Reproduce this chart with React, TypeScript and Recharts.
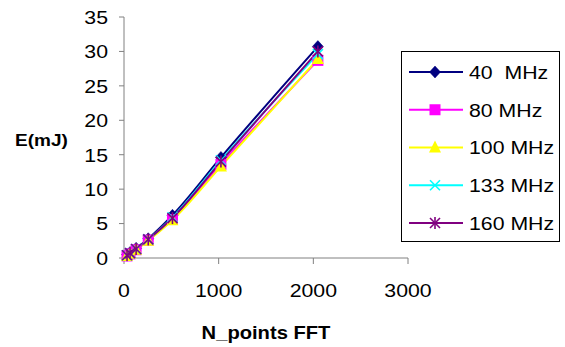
import React from 'react';
import { LineChart, Line, XAxis, YAxis } from 'recharts';

const nPoints = [32, 64, 128, 256, 512, 1024, 2048];
const e40 = [0.5, 0.8, 1.4, 2.8, 6.2, 14.6, 30.7];
const e80 = [0.3, 0.6, 1.2, 2.6, 5.6, 13.6, 28.7];
const e100 = [0.3, 0.6, 1.2, 2.5, 5.5, 13.3, 28.9];
const e133 = [0.4, 0.7, 1.3, 2.7, 5.9, 14.2, 29.6];
const e160 = [0.4, 0.7, 1.3, 2.7, 5.8, 14.0, 30.0];
const xTicks = [0, 1000, 2000, 3000];
const yTicks = [0, 5, 10, 15, 20, 25, 30, 35];

const seriesNames = ['40  MHz', '80 MHz', '100 MHz', '133 MHz', '160 MHz'];
const seriesKeys = ['f40', 'f80', 'f100', 'f133', 'f160'];
const seriesValues = [e40, e80, e100, e133, e160];
const seriesColors = ['#000080', '#FF00FF', '#FFFF00', '#00FFFF', '#800080'];
const seriesShapes = ['diamond', 'square', 'triangle', 'x', 'star'];

const data = nPoints.map((n, i) => {
  const row: Record<string, number> = { n };
  seriesKeys.forEach((k, s) => {
    row[k] = seriesValues[s][i];
  });
  return row;
});

const FONT = '"Liberation Sans", Arial, sans-serif';
const STRETCH = 1.12;

function Marker({ shape, color, cx, cy }: { shape: string; color: string; cx: number; cy: number }) {
  if (shape === 'diamond') {
    return <polygon points={`${cx},${cy - 6} ${cx + 5.5},${cy} ${cx},${cy + 6} ${cx - 5.5},${cy}`} fill={color} stroke={color} strokeWidth={0.5} />;
  }
  if (shape === 'square') {
    return <rect x={cx - 5.5} y={cy - 5.5} width={11} height={11} fill={color} />;
  }
  if (shape === 'triangle') {
    return <polygon points={`${cx},${cy - 7} ${cx + 6},${cy + 5} ${cx - 6},${cy + 5}`} fill={color} />;
  }
  if (shape === 'x') {
    return (
      <g stroke={color} strokeWidth={1.6}>
        <line x1={cx - 5} y1={cy - 5} x2={cx + 5} y2={cy + 5} />
        <line x1={cx - 5} y1={cy + 5} x2={cx + 5} y2={cy - 5} />
      </g>
    );
  }
  return (
    <g stroke={color} strokeWidth={1.6}>
      <line x1={cx - 5} y1={cy - 5} x2={cx + 5} y2={cy + 5} />
      <line x1={cx - 5} y1={cy + 5} x2={cx + 5} y2={cy - 5} />
      <line x1={cx} y1={cy - 6} x2={cx} y2={cy + 6} />
    </g>
  );
}

function StretchText({ x, y, anchor, dy, size, bold, children }: any) {
  return (
    <g transform={`translate(${x},${y}) scale(${STRETCH},1)`}>
      <text
        x={0}
        y={0}
        dy={dy}
        textAnchor={anchor}
        fontSize={size}
        fontWeight={bold ? 'bold' : 'normal'}
        fontFamily={FONT}
        fill="#000"
        style={{ whiteSpace: 'pre' }}
      >
        {children}
      </text>
    </g>
  );
}

function XTick(props: any) {
  const { x, y, payload } = props;
  return (
    <StretchText x={x} y={y} anchor="middle" dy="0.71em" size={19}>
      {String(payload.value)}
    </StretchText>
  );
}

function YTick(props: any) {
  const { x, y, payload } = props;
  return (
    <StretchText x={x} y={y} anchor="end" dy="0.36em" size={19}>
      {String(payload.value)}
    </StretchText>
  );
}

function XLabel(props: any) {
  const vb = props.viewBox || { x: 124, y: 258, width: 284, height: 30 };
  return (
    <StretchText x={vb.x + vb.width / 2} y={vb.y + vb.height + 45} anchor="middle" dy="0.36em" size={18} bold>
      N_points FFT
    </StretchText>
  );
}

function YLabel(props: any) {
  const vb = props.viewBox || { x: 10, y: 17, width: 114, height: 241 };
  return (
    <StretchText x={vb.x + 5} y={vb.y + vb.height / 2 + 2} anchor="start" dy="0.36em" size={17} bold>
      E(mJ)
    </StretchText>
  );
}

function LegendBox() {
  return (
    <div
      style={{
        position: 'absolute',
        left: 401,
        top: 51,
        width: 159,
        height: 191,
        border: '1px solid #000',
        background: '#fff',
        boxSizing: 'border-box',
      }}
    >
      <svg width={157} height={189} style={{ position: 'absolute', left: 0, top: 0 }}>
        {seriesNames.map((name, i) => {
          const y = 20 + i * 37.75;
          return (
            <g key={name}>
              <line x1={7} y1={y} x2={61} y2={y} stroke={seriesColors[i]} strokeWidth={2} />
              <Marker shape={seriesShapes[i]} color={seriesColors[i]} cx={33} cy={y} />
              <StretchText x={67} y={y} anchor="start" dy="0.36em" size={19}>
                {name}
              </StretchText>
            </g>
          );
        })}
      </svg>
    </div>
  );
}

export default function App() {
  return (
    <div style={{ position: 'absolute', left: 0, top: 0, width: 565, height: 347, background: '#fff' }}>
      <LineChart width={565} height={347} data={data} margin={{ top: 17, right: 157, bottom: 59, left: 10 }}>
        <XAxis
          dataKey="n"
          type="number"
          domain={[0, 3000]}
          ticks={xTicks}
          tickSize={6}
          tickMargin={20}
          stroke="#808080"
          tick={<XTick />}
          height={30}
          label={<XLabel />}
        />
        <YAxis
          type="number"
          domain={[0, 35]}
          ticks={yTicks}
          tickSize={5}
          tickMargin={11}
          stroke="#808080"
          width={114}
          interval={0}
          tick={<YTick />}
          label={<YLabel />}
        />
        {seriesKeys.map((k, i) => (
          <Line
            key={k}
            dataKey={k}
            name={seriesNames[i]}
            type="monotone"
            stroke={seriesColors[i]}
            strokeWidth={2}
            isAnimationActive={false}
            dot={(p: any) => <Marker key={`${k}-${p.index}`} shape={seriesShapes[i]} color={seriesColors[i]} cx={p.cx} cy={p.cy} />}
            activeDot={false}
          />
        ))}
      </LineChart>
      <LegendBox />
    </div>
  );
}
